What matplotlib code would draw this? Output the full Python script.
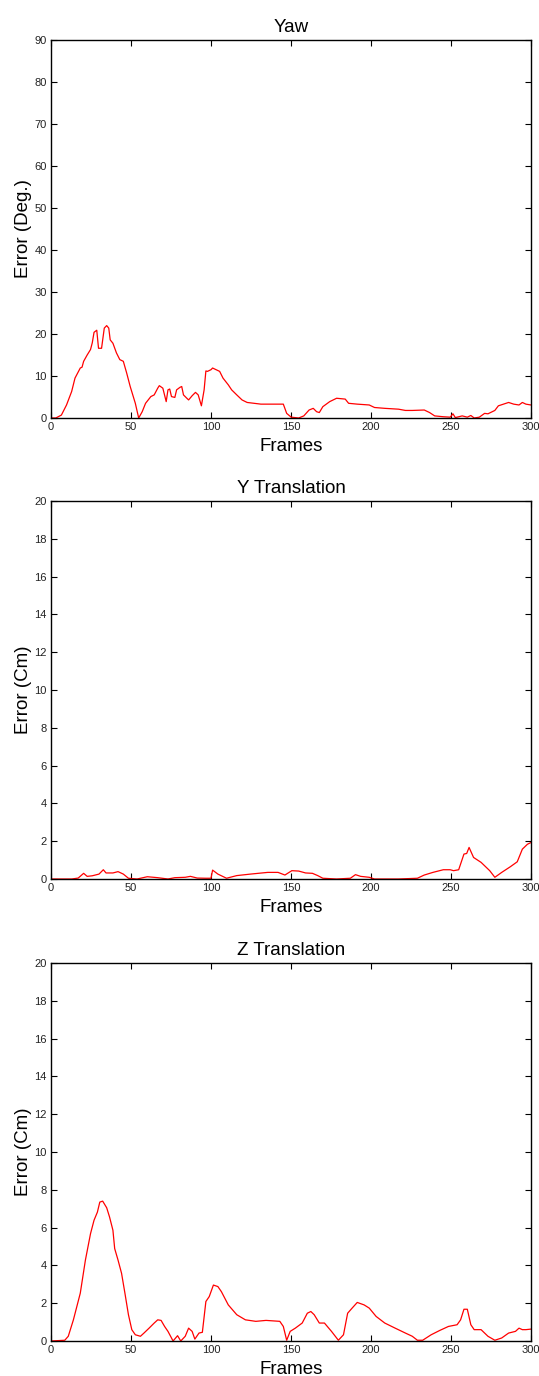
import numpy as np
import matplotlib
matplotlib.use("Agg")
import matplotlib.pyplot as plt

plt.rcParams['font.family'] = ['Liberation Sans', 'DejaVu Sans']

# yaw error (deg)
yaw_frames = [0, 3, 6.5, 9.7, 12.9, 15, 18.3, 19.4, 20.4, 22.6, 24.7, 25.8, 26.9, 28.6, 29.7,
              31.6, 33.3, 34.8, 36.1, 37, 38.7, 40.9, 43, 45.2, 47.3, 49.5, 52.7, 54.8, 57,
              59.1, 62.4, 64.5, 66.7, 67.7, 69.9, 72, 73.1, 74.2, 75.3, 77.4, 78.5, 80.6,
              81.7, 82.8, 84.9, 86, 88.2, 90.3, 92, 94, 95.7, 96.8, 97.8, 100, 101, 103.2,
              105.4, 107.5, 110.8, 112.9, 116.1, 119.4, 122.6, 126.9, 131.2, 137.6, 145.2,
              147.3, 150.1, 154.8, 158, 161.3, 163.9, 166, 167.7, 169.9, 174.2, 178.5, 183.9,
              186, 191.4, 198.9, 202.2, 208.6, 217.2, 221.5, 225.8, 233.3, 236.6, 239.8,
              245.2, 249.5, 251.2, 252.7, 257, 260.2, 262.4, 264.5, 267.7, 271, 273.1, 277.4,
              279.6, 282.8, 286, 289.2, 292.5, 294.6, 296.8, 300]
yaw_err = [0, 0, 0.7, 3.1, 6.3, 9.5, 11.9, 12.1, 13.5, 15, 16.3, 17.9, 20.4, 20.9, 16.6,
           16.6, 21.4, 22, 21.4, 18.6, 17.8, 15.5, 13.9, 13.5, 10.7, 7.5, 3.5, 0, 1.5,
           3.5, 5.1, 5.5, 7.1, 7.7, 7.1, 3.9, 6.7, 6.9, 5.1, 4.9, 6.7, 7.3,
           7.5, 5.5, 4.7, 4.3, 5.3, 6.1, 5.5, 2.9, 6.7, 11.2, 11.1, 11.5, 11.9, 11.5,
           11.1, 9.5, 7.9, 6.7, 5.5, 4.3, 3.7, 3.5, 3.3, 3.3, 3.3,
           1.1, 0.2, 0, 0.5, 1.9, 2.3, 1.5, 1.3, 2.7, 3.9, 4.7, 4.5,
           3.5, 3.3, 3.1, 2.5, 2.3, 2.1, 1.8, 1.8, 1.9, 1.3, 0.5,
           0.3, 0.2, 1.0, 0.1, 0.5, 0.2, 0.6, 0, 0.2, 1.1, 1.0, 1.8,
           2.9, 3.3, 3.7, 3.3, 3.1, 3.7, 3.3, 3.1]

# y translation error (cm)
ty_frames = [0, 13, 17, 20.4, 22.6, 25.8, 30, 32.7, 34.4, 38.7, 41.9, 45.2, 48.4, 53.8,
             60.2, 66.7, 73.1, 77.4, 83.9, 87.1, 91.4, 96.8, 100, 101, 104.3, 109.7, 116.1,
             124.7, 135.5, 141.9, 146.2, 150.5, 154.8, 159.1, 163.4, 166.7, 169.9, 178.5,
             187.1, 190.3, 193.5, 198.9, 202.2, 217.2, 229, 233.3, 238.7, 245.2, 249.5,
             251.6, 254.8, 258.1, 259.8, 261.3, 264.1, 268.8, 274.2, 277.4, 281.7, 287.1,
             291.4, 294.6, 297.8, 300]
ty_err = [0, 0, 0.05, 0.3, 0.14, 0.17, 0.26, 0.49, 0.32, 0.32, 0.39, 0.26, 0.04, 0,
          0.12, 0.07, 0, 0.07, 0.09, 0.14, 0.05, 0.04, 0.04, 0.47, 0.26, 0.04, 0.18,
          0.26, 0.35, 0.35, 0.21, 0.44, 0.42, 0.32, 0.3, 0.18, 0.04, 0,
          0.04, 0.23, 0.14, 0.09, 0, 0, 0.04, 0.21, 0.35, 0.49, 0.49,
          0.44, 0.49, 1.32, 1.35, 1.67, 1.14, 0.88, 0.44, 0.09, 0.35, 0.65,
          0.91, 1.58, 1.84, 1.93]

# z translation error (cm)
tz_frames = [0, 8.6, 10.8, 14, 18.3, 21.5, 24.7, 26.9, 29, 30.5, 32.3, 34.8, 36.6, 38.7,
             39.8, 41.9, 44.1, 46.2, 48.4, 50.5, 52.7, 55.9, 58.1, 61.3, 64.5, 66.7, 68.8,
             71, 73.1, 75.3, 76.3, 79.1, 81.1, 83.9, 86, 88.2, 89.9, 92.5, 94.6, 96.8,
             98.9, 101.5, 104.3, 106.5, 110.8, 116.1, 121.5, 128, 134.4, 143, 145.2, 147.3,
             149.5, 152.7, 157, 160.2, 162.4, 164.5, 167.7, 170.9, 175.3, 179.6, 182.8,
             185.4, 188.2, 191.4, 195.7, 198.9, 203.2, 208.6, 215.1, 221.5, 225.8, 229,
             232.3, 237.6, 243, 248.4, 253.8, 256, 258.1, 260.2, 262.4, 264.5, 268.8,
             273.1, 277.4, 281.7, 286, 290.3, 292.5, 294.6, 296.8, 300]
tz_err = [0, 0.04, 0.25, 1.12, 2.53, 4.28, 5.68, 6.39, 6.82, 7.35, 7.4, 7.05, 6.56, 5.86,
          4.89, 4.28, 3.58, 2.53, 1.39, 0.6, 0.33, 0.25, 0.42, 0.68, 0.95, 1.12, 1.09,
          0.77, 0.51, 0.16, 0, 0.28, 0, 0.25, 0.68, 0.51, 0.1, 0.42, 0.46, 2.09,
          2.35, 2.96, 2.88, 2.61, 1.91, 1.39, 1.12, 1.04, 1.09, 1.04, 0.77, 0.04,
          0.51, 0.68, 0.95, 1.47, 1.56, 1.39, 0.95, 0.95, 0.51, 0.04, 0.33,
          1.47, 1.74, 2.04, 1.91, 1.74, 1.3, 0.95, 0.68, 0.42, 0.25, 0.04,
          0.04, 0.33, 0.56, 0.77, 0.86, 1.12, 1.68, 1.68, 0.86, 0.6, 0.6,
          0.25, 0.04, 0.16, 0.42, 0.51, 0.68, 0.6, 0.6, 0.63]

panels = [
    ("Yaw", "Error (Deg.)", yaw_frames, yaw_err, 90, 10),
    ("Y Translation", "Error (Cm)", ty_frames, ty_err, 20, 2),
    ("Z Translation", "Error (Cm)", tz_frames, tz_err, 20, 2),
]

W, H = 539, 1376
fig = plt.figure(figsize=(W / 100, H / 100), dpi=100)

# axes boxes in pixels: (top, bottom)
boxes = [(40, 418), (501, 879), (963, 1341)]
left_px, right_px = 51, 531

for (title, ylab, xs, ys, ymax, ystep), (top, bot) in zip(panels, boxes):
    ax = fig.add_axes([left_px / W, 1 - bot / H, (right_px - left_px) / W, (bot - top) / H])
    ax.plot(xs, ys, color='red', lw=0.9)
    ax.set_xlim(0, 300)
    ax.set_ylim(0, ymax)
    ax.set_xticks(np.arange(0, 301, 50))
    ax.set_yticks(np.arange(0, ymax + 1, ystep))
    ax.tick_params(direction='in', top=True, right=True, length=4, width=0.8,
                   labelsize=8, pad=3, colors='black', labelcolor='#222222')
    for s in ax.spines.values():
        s.set_linewidth(1.0)
    ax.set_title(title, fontsize=13.5, pad=6)
    ax.set_xlabel("Frames", fontsize=13.5, labelpad=4)
    ax.set_ylabel(ylab, fontsize=13.5, labelpad=2)

fig.savefig("out.png", dpi=100)
